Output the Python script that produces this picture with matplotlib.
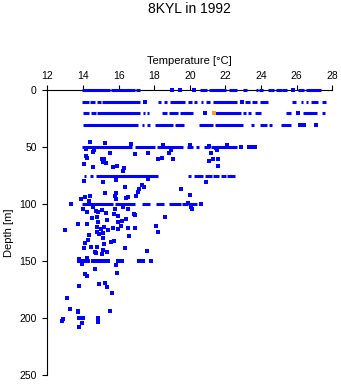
import matplotlib
matplotlib.use("Agg")
import matplotlib.pyplot as plt

plt.rcParams['font.family'] = ['Liberation Sans', 'DejaVu Sans']

# dense sampling at standard depths, stored as (start, end) temperature runs
runs_0m = [(13.95, 15.52), (15.6, 16.93), (17.0, 17.2), (20.55, 20.95), (21.1, 22.03),
           (22.22, 22.67), (23.0, 23.2), (23.72, 23.85), (23.9, 24.1), (24.4, 24.75),
           (24.85, 25.15), (25.2, 25.45), (26.1, 26.43), (26.5, 27.37)]
runs_10m = [(13.95, 14.32), (14.4, 14.68), (14.77, 15.0), (15.07, 17.2), (18.2, 18.38),
            (18.55, 18.7), (18.9, 19.74), (19.88, 20.12), (20.21, 20.43), (20.62, 20.76),
            (20.91, 21.13), (21.32, 22.67), (23.1, 23.37), (23.47, 23.78), (23.94, 24.4),
            (25.72, 25.95), (26.25, 26.38), (26.53, 26.66), (26.79, 27.22), (27.4, 27.65)]
runs_20m = [(13.99, 14.36), (14.44, 14.73), (14.81, 17.2), (17.39, 17.5), (17.61, 17.73),
            (18.46, 18.72), (18.82, 19.36), (19.45, 20.2), (21.42, 22.9), (23.0, 23.14),
            (23.25, 23.45), (23.66, 23.98), (25.4, 25.67), (26.34, 27.16), (27.42, 27.6)]
runs_30m = [(14.02, 17.11), (17.3, 17.43), (17.61, 17.77), (18.05, 19.07), (19.17, 19.68),
            (20.52, 21.32), (21.42, 22.97), (23.45, 23.6), (23.96, 24.32), (24.47, 24.6),
            (25.14, 25.67)]
runs_50m = [(13.93, 16.75), (16.9, 18.05), (18.18, 19.64), (19.83, 20.2), (20.35, 20.52),
            (20.8, 21.13), (21.2, 22.67)]
runs_75m = [(14.06, 14.2), (14.4, 14.58), (14.72, 18.23), (19.9, 20.05), (20.24, 20.76),
            (20.85, 21.23), (21.29, 21.66), (21.75, 22.02), (22.1, 22.54)]
runs_100m = [(13.93, 15.7), (15.8, 16.92), (17.3, 17.77), (18.1, 18.55), (18.85, 19.49),
             (19.55, 19.92), (19.97, 20.39)]

# single observations
temp = [19.0, 19.45, 20.22, 25.82,
        17.5, 22.95,
        20.83, 26.1,
        26.17, 26.43, 27.1,
        22.88, 23.35, 23.45, 23.66,
        13.35, 20.65,
        14.4, 15.24, 16.7, 18.5, 20.0, 21.05, 22.07,
        14.2, 14.64, 14.58, 15.52, 16.92, 17.67, 18.85, 18.95, 21.2, 21.5, 21.47,
        14.15, 14.25, 15.05, 15.2, 15.15, 15.3, 14.08, 14.58, 15.7, 15.9, 16.3, 16.27,
        18.23, 18.42, 19.07, 21.05, 21.29, 21.6, 21.6,
        14.06, 15.1, 15.86, 17.67, 17.3, 17.43, 16.36, 15.24, 15.86, 15.8, 17.07, 16.98,
        16.55, 16.4, 14.12, 13.87, 15.86, 14.36, 20.9, 19.5, 20.0, 19.9, 17.17, 14.4,
        13.99, 14.21, 14.72, 14.86, 15.09, 15.28, 15.76, 15.99, 16.51, 16.89, 14.53, 14.77,
        15.33, 14.86, 15.99, 16.17, 16.42, 13.71, 14.21, 12.99, 14.77, 15.0, 15.2, 15.43,
        15.71, 15.95, 16.14, 16.51, 16.92, 14.77, 14.92, 15.11, 14.36, 15.15, 14.3, 15.58,
        15.76, 14.12, 14.08, 14.44, 14.77, 15.2, 15.15, 15.33, 14.68, 14.72, 15.09, 16.36,
        17.58, 16.59, 14.25, 20.05, 20.15, 18.6, 18.08, 18.23, 16.92, 14.55, 16.27, 15.8,
        13.78, 13.95, 14.12, 14.28, 14.58, 14.7, 14.9, 15.05, 15.24, 15.39, 15.95, 16.2,
        17.17, 17.4, 17.84, 13.78, 15.05, 13.93, 15.84,
        14.68, 15.93, 14.14, 14.21, 13.78, 14.92, 15.24, 15.37, 15.61, 13.12, 13.27, 13.74,
        13.74, 15.52, 12.9, 12.84, 13.8, 14.02, 13.97, 14.86, 14.86, 13.78]
depth = [0, 0, 0, 0,
         10, 10,
         20, 20,
         30, 30, 30,
         50, 50, 50, 50,
         100, 100,
         45, 46, 47, 48, 48, 49, 48,
         51.5, 52.4, 54, 55.3, 56, 55.3, 55.3, 52.4, 55.3, 52.4, 51,
         58, 59.5, 60.3, 60.3, 62.6, 64, 65, 67, 67, 66, 68.4, 70.5,
         60.5, 59.1, 60.5, 62, 60.5, 60.5, 66,
         79.3, 80, 79, 78, 83, 85, 85, 90.4, 90.4, 92.5, 89.5, 92.5,
         93.3, 94.2, 93.3, 95.4, 95.4, 97, 80, 86.8, 91.8, 98.5, 86.8, 92.7,
         104, 107, 106, 107, 105, 108, 108.8, 110, 104, 108.8, 112.3, 110.9,
         113.8, 115.8, 115.2, 114.6, 112.9, 117.3, 117.3, 122.5, 120.2, 121.7, 119.6, 122.5,
         120.5, 121.7, 119, 121, 121, 124.6, 126.3, 125.4, 127, 129.8, 131.3, 133.3,
         132, 134.2, 138, 137.7, 137.2, 135, 140, 142, 141.5, 143, 143.9, 138.6,
         140.9, 127.8, 147.4, 102, 104.5, 111.4, 119, 124, 109.4, 102.6, 102.6, 104.4,
         150, 150, 150, 150, 150, 150, 150, 150, 150, 150, 150, 150,
         150, 150, 150, 148, 149.4, 152.4, 153.2,
         156.8, 160.3, 161, 163, 171.7, 170.2, 168.8, 172.8, 178.1, 181.9, 192.1, 194.2,
         193.2, 193.9, 200.6, 202.1, 200, 200, 203.9, 200, 203, 207.9]

# the one flagged value
flag_temp = [21.36]
flag_depth = [20]

all_runs = {0: runs_0m, 10: runs_10m, 20: runs_20m, 30: runs_30m,
            50: runs_50m, 75: runs_75m, 100: runs_100m}

fig = plt.figure(figsize=(3.41, 3.84), dpi=100)
ax = fig.add_axes([47.3 / 341, 1 - 375.3 / 384, 285 / 341, 285 / 384])

for d, runs in all_runs.items():
    ax.hlines([d] * len(runs), [r[0] for r in runs], [r[1] for r in runs],
              colors='#0000ff', linewidth=2.2, capstyle='butt', clip_on=False, zorder=3)
ax.scatter(temp, depth, s=5, marker='s', c='#0000ff', linewidths=0, clip_on=False, zorder=3)
ax.scatter(flag_temp, flag_depth, s=5, marker='s', c='#ffa020', linewidths=0,
           clip_on=False, zorder=4)

ax.set_xlim(12, 28)
ax.set_ylim(250, 0)
ax.set_xticks(range(12, 29, 2))
ax.set_yticks(range(0, 251, 50))

ax.xaxis.tick_top()
ax.xaxis.set_label_position('top')
ax.spines['right'].set_visible(False)
ax.spines['bottom'].set_visible(False)
ax.spines['top'].set_linewidth(0.8)
ax.spines['left'].set_linewidth(0.8)
ax.spines['top'].set_zorder(1)
ax.tick_params(axis='both', direction='out', length=3.6, width=0.8, labelsize=7.5)
ax.tick_params(axis='x', pad=3)
ax.tick_params(axis='y', pad=4)

ax.set_xlabel('Temperature [°C]', fontsize=8, labelpad=5)
ax.set_ylabel('Depth [m]', fontsize=8, labelpad=4)

fig.text(189.8 / 341, 1 - 9 / 384, '8KYL in 1992', ha='center', va='center', fontsize=10)

fig.savefig('out.png', dpi=100)
